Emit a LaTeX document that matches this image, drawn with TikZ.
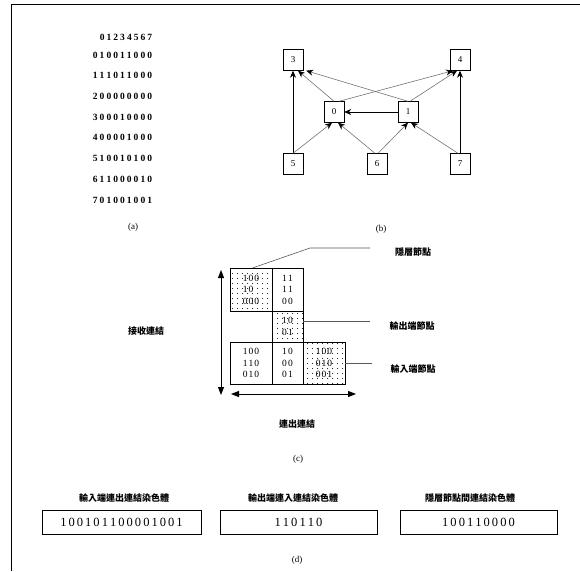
\documentclass[tikz,border=0pt]{standalone}
\usepackage{fontspec}
\setmainfont{Liberation Serif}
\newfontfamily\cjk{Noto Sans CJK TC}
\usetikzlibrary{arrows.meta, patterns}
\pgfdeclarepatternformonly{sparsedots}{\pgfpoint{-0.5pt}{-0.5pt}}{\pgfpoint{5.5pt}{5.5pt}}{\pgfpoint{5pt}{5pt}}{\pgfpathcircle{\pgfpoint{2.5pt}{2.5pt}}{0.5pt}\pgfusepath{fill}}
\newcommand{\digs}[2]{\def\digw{#1}\edef\digtmp{#2}\expandafter\digloop\digtmp\relax}
\def\digloop#1{\ifx#1\relax\else\makebox[\digw]{#1}\expandafter\digloop\fi}

\begin{document}
\begin{tikzpicture}[x=1pt, y=-1pt, >={Stealth[length=7pt,width=6pt,color=black]},
  mat/.style={inner sep=0pt, font=\fontsize{9.5}{10}\selectfont\bfseries},
  vtx/.style={draw, minimum width=20pt, minimum height=21pt, inner sep=0pt, font=\fontsize{9}{10}\selectfont},
  blk/.style={draw, inner sep=0pt, align=left, font=\fontsize{9.5}{11.5}\selectfont},
  spot/.style={blk, pattern=sparsedots, pattern color=black},
  lbl/.style={inner sep=0pt, font=\cjk\bfseries\fontsize{9}{10}\selectfont},
  figcap/.style={inner sep=0pt, font=\fontsize{9}{10}\selectfont},
  chrom/.style={draw, line width=0.9pt, minimum height=24pt, inner sep=0pt, font=\fontsize{12.5}{13}\selectfont},
  edge/.style={->, draw=black!55, line width=0.6pt},
  lead/.style={draw=black!65, line width=0.6pt},
  dbl/.style={{Triangle[length=8pt,width=6pt]}-{Triangle[length=8pt,width=6pt]}, line width=0.9pt}]
  \useasboundingbox (0,0) rectangle (580,571);
  \draw[line width=0.8pt] (11,571) -- (11,4.5) -- (580,4.5);

  % (a)
  \node[mat] (hdr) at (126,37) {\digs{6.8pt}{01234567}};
  \foreach \i/\bits in {0/10011000, 1/11011000, 2/00000000, 3/00010000, 4/00001000, 5/10010100, 6/11000010, 7/01001001}
    \node[mat] (row\i) at (122.5,55+20.7*\i) {\digs{6.8pt}{\i\bits}};
  \node[figcap] (capa) at (133,227) {(a)};

  % (b)
  \node[vtx] (n3) at (293,60) {3};
  \node[vtx] (n4) at (460,60) {4};
  \node[vtx] (n0) at (334,112) {0};
  \node[vtx] (n1) at (408,112) {1};
  \node[vtx] (n5) at (293,164) {5};
  \node[vtx] (n6) at (377,164) {6};
  \node[vtx] (n7) at (460,164) {7};
  \draw[->, line width=0.7pt] (n5) -- (n3);
  \draw[->, line width=0.7pt] (n7) -- (n4);
  \draw[->, line width=0.7pt] (n1) -- (n0);
  \draw[edge] (n0.north) -- ([xshift=5pt]n3.south);
  \draw[edge] (n1.north) -- ([xshift=3pt]n3.south east);
  \draw[edge] ([xshift=5pt]n0.north) -- ([xshift=-7pt]n4.south);
  \draw[edge] ([xshift=2pt]n1.north) -- ([xshift=-3pt]n4.south);
  \draw[edge] (n5.north) -- ([xshift=-2pt]n0.south);
  \draw[edge] ([xshift=-2pt]n6.north) -- ([xshift=4pt]n0.south);
  \draw[edge] ([xshift=1pt]n6.north) -- (n1.south);
  \draw[edge] ([xshift=-2pt]n7.north) -- ([xshift=3pt]n1.south);
  \node[figcap] (capb) at (381,229) {(b)};

  % (c)
  \node[spot, minimum width=42pt, minimum height=43pt] (hh) at (251,289.5) {\digs{5.8pt}{100}\\\digs{5.8pt}{10}\\\digs{5.8pt}{000}};
  \node[blk, minimum width=31pt, minimum height=43pt] (ho) at (287.5,289.5) {\digs{5.8pt}{11}\\\digs{5.8pt}{11}\\\digs{5.8pt}{00}};
  \node[spot, minimum width=31pt, minimum height=31pt] (oo) at (287.5,326.5) {\digs{5.8pt}{10}\\\digs{5.8pt}{01}};
  \node[blk, minimum width=42pt, minimum height=42pt] (ih) at (251,363) {\digs{5.8pt}{100}\\\digs{5.8pt}{110}\\\digs{5.8pt}{010}};
  \node[blk, minimum width=31pt, minimum height=42pt] (io) at (287.5,363) {\digs{5.8pt}{10}\\\digs{5.8pt}{00}\\\digs{5.8pt}{01}};
  \node[spot, minimum width=42pt, minimum height=42pt] (ii) at (324,363) {\digs{5.8pt}{100}\\\digs{5.8pt}{010}\\\digs{5.8pt}{001}};
  \coordinate (vtop) at (221,270);
  \coordinate (vbot) at (221,395);
  \coordinate (hlft) at (231,394);
  \coordinate (hrgt) at (356,394);
  \draw[dbl] (vtop) -- (vbot);
  \draw[dbl] (hlft) -- (hrgt);
  \node[lbl] (recv) at (146,331) {接收連結};
  \node[lbl] (send) at (297,424) {連出連結};
  \node[lbl] (hidlbl) at (413,252) {隱層節點};
  \node[lbl] (outlbl) at (412,326) {輸出端節點};
  \node[lbl] (inlbl) at (413,369) {輸入端節點};
  \coordinate (kink) at (310,248);
  \coordinate (hidend) at (370,248);
  \coordinate (outend) at (370,321);
  \coordinate (inend) at (372,363);
  \draw[lead] ([xshift=2pt]hh.north) -- (kink) -- (hidend);
  \draw[lead] ([yshift=5.5pt]oo.east) -- (outend);
  \draw[lead] (ii.east) -- (inend);
  \node[figcap] (capc) at (298,459) {(c)};

  % (d)
  \node[lbl] (lab1) at (124,498) {輸入端連出連結染色體};
  \node[lbl] (lab2) at (293,498) {輸出端連入連結染色體};
  \node[lbl] (lab3) at (470,498) {隱層節點間連結染色體};
  \node[chrom, minimum width=159pt] (b1) at (121.5,522) {\digs{8.3pt}{100101100001001}};
  \node[chrom, minimum width=157pt] (b2) at (298.5,522) {\digs{8.3pt}{110110}};
  \node[chrom, minimum width=157pt] (b3) at (478.5,522) {\digs{8.3pt}{100110000}};
  \node[figcap] (capd) at (297,560) {(d)};
\end{tikzpicture}
\end{document}
